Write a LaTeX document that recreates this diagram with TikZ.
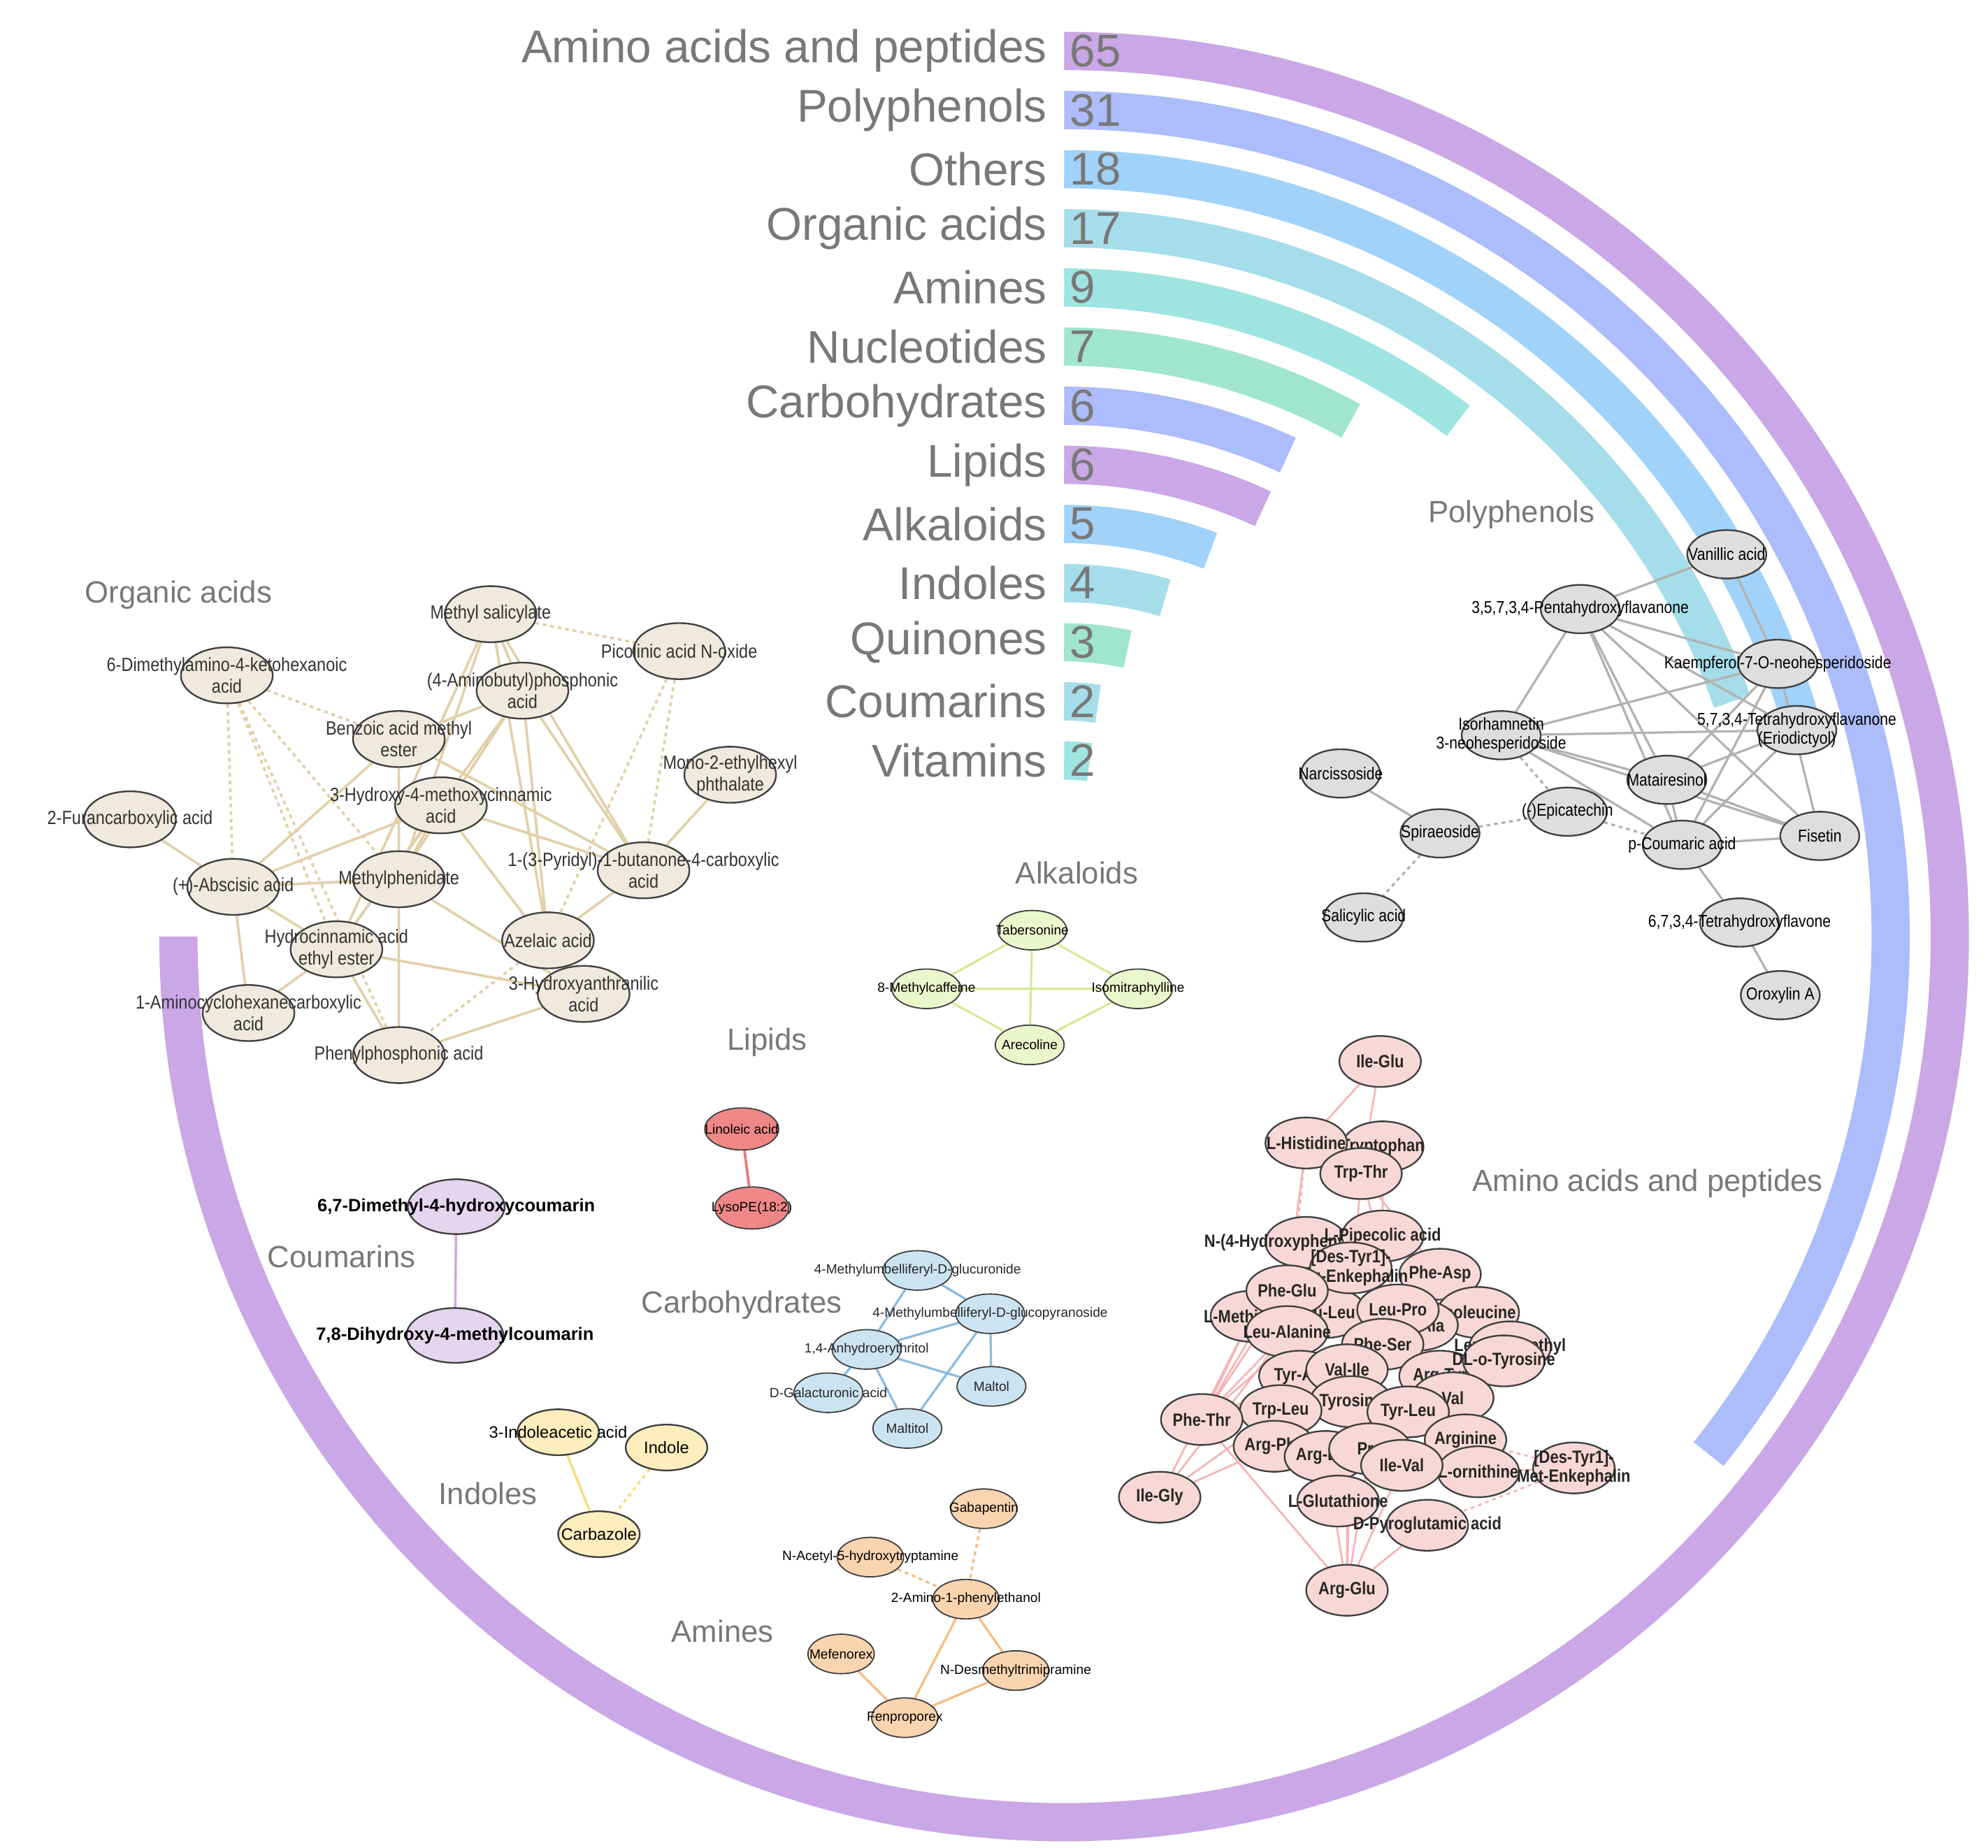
\documentclass[tikz,border=0pt]{standalone}
\usepackage{fontspec}
\setmainfont{Liberation Sans}
\newfontfamily\nar[FakeStretch=0.86]{Liberation Sans}
\usetikzlibrary{shapes.geometric}
\pgfdeclarelayer{arcs}\pgfdeclarelayer{edges}
\pgfsetlayers{arcs,edges,main}
\definecolor{tg}{RGB}{120,120,120}
\definecolor{cPur}{RGB}{198,160,228}
\definecolor{cBlu}{RGB}{166,182,250}
\definecolor{cLb}{RGB}{152,206,250}
\definecolor{cTl}{RGB}{158,218,232}
\definecolor{cTq}{RGB}{150,226,222}
\definecolor{cGr}{RGB}{152,228,200}
\tikzset{
 base/.style={ellipse,draw=black!75,line width=1.3pt,inner sep=0pt},
 oa/.style={base,fill={rgb,255:red,240;green,234;blue,222},minimum width=72pt,minimum height=44pt},
 oat/.style={font=\nar\fontsize{15}{17}\selectfont,text=black!80,align=center},
 pp/.style={base,fill={rgb,255:red,222;green,222;blue,222},minimum width=62pt,minimum height=38pt},
 ppt/.style={font=\nar\fontsize{13.5}{15}\selectfont,align=center},
 alk/.style={base,line width=1pt,fill={rgb,255:red,236;green,246;blue,204},minimum width=54pt,minimum height=31pt},
 alkt/.style={font=\fontsize{10.5}{12}\selectfont,align=center},
 li/.style={base,line width=1pt,fill={rgb,255:red,240;green,135;blue,135},minimum width=58pt,minimum height=33pt},
 lit/.style={font=\fontsize{10.5}{12}\selectfont},
 co/.style={base,fill={rgb,255:red,228;green,214;blue,238},minimum width=76pt,minimum height=43pt},
 cot/.style={font=\bfseries\fontsize{14}{16}\selectfont},
 ca/.style={base,line width=1pt,fill={rgb,255:red,204;green,228;blue,242},minimum width=54pt,minimum height=31pt},
 cat/.style={font=\fontsize{10.5}{12}\selectfont,text=black!85},
 inx/.style={base,fill={rgb,255:red,254;green,238;blue,190},minimum width=64pt,minimum height=36pt},
 inxt/.style={font=\fontsize{13}{15}\selectfont},
 amn/.style={base,line width=1pt,fill={rgb,255:red,250;green,212;blue,175},minimum width=52pt,minimum height=31pt},
 amnt/.style={font=\fontsize{10.5}{12}\selectfont},
 aa/.style={base,fill={rgb,255:red,248;green,216;blue,214},minimum width=64pt,minimum height=40pt},
 aat/.style={font=\nar\bfseries\fontsize{14}{15}\selectfont,align=center,text=black!85},
 grp/.style={font=\fontsize{24}{26}\selectfont,text=tg},
 big/.style={font=\fontsize{36}{38}\selectfont,text=tg},
 eoa/.style={draw={rgb,255:red,226;green,208;blue,170},line width=2pt},
 eoad/.style={eoa,dashed},
 epp/.style={draw=black!30,line width=1.8pt},
 eppd/.style={epp,dashed},
 eal/.style={draw={rgb,255:red,214;green,234;blue,150},line width=1.8pt},
 eli/.style={draw={rgb,255:red,232;green,120;blue,120},line width=2pt},
 eco/.style={draw={rgb,255:red,210;green,170;blue,228},line width=2pt},
 eca/.style={draw={rgb,255:red,140;green,188;blue,222},line width=1.8pt},
 ein/.style={draw={rgb,255:red,248;green,218;blue,120},line width=1.8pt},
 eind/.style={ein,dashed},
 eam/.style={draw={rgb,255:red,246;green,188;blue,130},line width=1.8pt},
 eamd/.style={eam,dashed},
 eaa/.style={draw={rgb,255:red,246;green,180;blue,180},line width=1.5pt},
 eaad/.style={eaa,dashed},
 bar/.style={line width=30pt,opacity=0.92},
}
\newcommand\nn[4]{\node[#1] (#2) at (#3) {}; \node[#1t] (#2t) at (#3) {#4};}
\begin{document}
\begin{tikzpicture}[x=1pt,y=-1pt]
\useasboundingbox (0,0) rectangle (1560,1450);
% ---------- bars
\begin{pgfonlayer}{arcs}
\foreach \i/\v/\c in {0/65/cPur,1/31/cBlu,2/18/cLb,3/17/cTl,4/9/cTq,5/7/cGr,6/6/cBlu,7/6/cPur,8/5/cLb,9/4/cTl,10/3/cGr,11/2/cTl,12/2/cTq}{
  \pgfmathsetmacro\r{695-46.4*\i}
  \pgfmathsetmacro\ea{90-\v/65*270}
  \pgfmathsetmacro\ty{735-\r}
  \draw[bar,\c] (835,\ty) arc[start angle=90,end angle=\ea,radius=\r pt];
}
\end{pgfonlayer}
\foreach \i/\t/\v in {0/Amino acids and peptides/65,1/Polyphenols/31,2/Others/18,3/Organic acids/17,4/Amines/9,5/Nucleotides/7,6/Carbohydrates/6,7/Lipids/6,8/Alkaloids/5,9/Indoles/4,10/Quinones/3,11/Coumarins/2,12/Vitamins/2}{
  \node[big,anchor=east] (lab\i) at (825,40+46.4*\i) {\t};
  \node[big,anchor=west] (cnt\i) at (836,40+46.4*\i) {\v};
}
% ---------- group labels
\node[grp] (gOA) at (140,467) {Organic acids};
\node[grp] (gPP) at (1186,404) {Polyphenols};
\node[grp] (gAL) at (845,685) {Alkaloids};
\node[grp] (gLI) at (602,818) {Lipids};
\node[grp] (gCO) at (268,986) {Coumarins};
\node[grp] (gCA) at (582,1024) {Carbohydrates};
\node[grp] (gIN) at (383,1172) {Indoles};
\node[grp] (gAM) at (567,1280) {Amines};
\node[grp] (gAA) at (1293,929) {Amino acids and peptides};
% ---------- organic acids
\nn{oa}{ms}{385,482}{Methyl salicylate}
\nn{oa}{pno}{533,511}{Picolinic acid N-oxide}
\nn{oa}{dmk}{178,530}{6-Dimethylamino-4-ketohexanoic\\acid}
\nn{oa}{ab}{410,542}{(4-Aminobutyl)phosphonic\\acid}
\nn{oa}{bme}{313,580}{Benzoic acid methyl\\ester}
\nn{oa}{meh}{573,608}{Mono-2-ethylhexyl\\phthalate}
\nn{oa}{hmc}{346,632}{3-Hydroxy-4-methoxycinnamic\\acid}
\nn{oa}{fc}{102,643}{2-Furancarboxylic acid}
\nn{oa}{pbc}{505,683}{1-(3-Pyridyl)-1-butanone-4-carboxylic\\acid}
\nn{oa}{abs}{183,696}{(+)-Abscisic acid}
\nn{oa}{mph}{313,690}{Methylphenidate}
\nn{oa}{az}{430,738}{Azelaic acid}
\nn{oa}{hce}{264,745}{Hydrocinnamic acid\\ethyl ester}
\nn{oa}{haa}{458,780}{3-Hydroxyanthranilic\\acid}
\nn{oa}{ach}{195,795}{1-Aminocyclohexanecarboxylic\\acid}
\nn{oa}{ph}{313,828}{Phenylphosphonic acid}
\begin{pgfonlayer}{edges}
\draw[eoa] (ms)--(hce) (ms)--(az) (ms)--(pbc) (ms)--(mph) (ms)--(ab) (ab)--(bme) (ab)--(hce) (ab)--(az) (ab)--(pbc)
 (bme)--(abs) (bme)--(ph) (bme)--(pbc) (hmc)--(abs) (hmc)--(hce) (hmc)--(haa) (hmc)--(pbc) (hmc)--(mph)
 (fc)--(abs) (abs)--(hce) (abs)--(ach) (abs)--(mph) (mph)--(haa) (mph)--(ph) (hce)--(haa) (hce)--(ach) (hce)--(ph)
 (az)--(pbc) (meh)--(pbc) (ph)--(haa) (ab)--(mph);
\draw[eoad] (ms)--(pno) (pno)--(pbc) (pno)--(az) (dmk)--(abs) (dmk)--(hce) (dmk)--(bme) (dmk)--(mph) (dmk)--(ph) (az)--(ph);
\end{pgfonlayer}
% ---------- polyphenols
\nn{pp}{va}{1355,435}{Vanillic acid}
\nn{pp}{phf}{1240,478}{3,5,7,3,4-Pentahydroxyflavanone}
\nn{pp}{kae}{1395,521}{Kaempferol-7-O-neohesperidoside}
\nn{pp}{iso}{1178,577}{Isorhamnetin\\3-neohesperidoside}
\nn{pp}{eri}{1410,573}{5,7,3,4-Tetrahydroxyflavanone\\(Eriodictyol)}
\nn{pp}{nar}{1052,607}{Narcissoside}
\nn{pp}{mat}{1308,612}{Matairesinol}
\nn{pp}{epi}{1230,637}{(-)Epicatechin}
\nn{pp}{spi}{1130,654}{Spiraeoside}
\nn{pp}{fis}{1428,656}{Fisetin}
\nn{pp}{pca}{1320,663}{p-Coumaric acid}
\nn{pp}{sal}{1070,720}{Salicylic acid}
\nn{pp}{thf}{1365,724}{6,7,3,4-Tetrahydroxyflavone}
\nn{pp}{oro}{1397,781}{Oroxylin A}
\begin{pgfonlayer}{edges}
\draw[epp] (va)--(phf) (va)--(kae) (phf)--(kae) (phf)--(iso) (phf)--(mat) (phf)--(pca) (phf)--(fis) (phf)--(eri)
 (kae)--(iso) (kae)--(mat) (kae)--(pca) (kae)--(fis) (iso)--(eri) (iso)--(mat) (iso)--(fis) (iso)--(pca)
 (eri)--(mat) (eri)--(pca) (mat)--(pca) (mat)--(fis) (pca)--(fis) (pca)--(thf) (thf)--(oro) (nar)--(spi);
\draw[eppd] (spi)--(epi) (spi)--(sal) (iso)--(epi) (epi)--(pca);
\end{pgfonlayer}
% ---------- alkaloids
\nn{alk}{tab}{810,730}{Tabersonine}
\nn{alk}{mc}{727,776}{8-Methylcaffeine}
\nn{alk}{ism}{893,776}{Isomitraphylline}
\nn{alk}{are}{808,820}{Arecoline}
\begin{pgfonlayer}{edges}
\draw[eal] (tab)--(mc) (tab)--(ism) (tab)--(are) (mc)--(ism) (mc)--(are) (ism)--(are);
\end{pgfonlayer}
% ---------- lipids
\nn{li}{lin}{582,886}{Linoleic acid}
\nn{li}{lpe}{590,948}{LysoPE(18:2)}
\begin{pgfonlayer}{edges}\draw[eli] (lin)--(lpe);\end{pgfonlayer}
% ---------- coumarins
\nn{co}{dmc}{358,947}{6,7-Dimethyl-4-hydroxycoumarin}
\nn{co}{dhc}{357,1048}{7,8-Dihydroxy-4-methylcoumarin}
\begin{pgfonlayer}{edges}\draw[eco] (dmc)--(dhc);\end{pgfonlayer}
% ---------- carbohydrates
\nn{ca}{mug}{720,997}{4-Methylumbelliferyl-D-glucuronide}
\nn{ca}{mgp}{777,1031}{4-Methylumbelliferyl-D-glucopyranoside}
\nn{ca}{ahe}{680,1059}{1,4-Anhydroerythritol}
\nn{ca}{mal}{778,1088}{Maltol}
\nn{ca}{dga}{650,1093}{D-Galacturonic acid}
\nn{ca}{mtt}{712,1121}{Maltitol}
\begin{pgfonlayer}{edges}
\draw[eca] (mug)--(mgp) (mug)--(ahe) (mgp)--(ahe) (mgp)--(mal) (mgp)--(mtt) (ahe)--(dga) (ahe)--(mtt) (ahe)--(mal);
\end{pgfonlayer}
% ---------- indoles
\nn{inx}{iaa}{438,1124}{3-Indoleacetic acid}
\nn{inx}{ind}{523,1136}{Indole}
\nn{inx}{car}{470,1204}{Carbazole}
\begin{pgfonlayer}{edges}\draw[ein] (iaa)--(car); \draw[eind] (ind)--(car);\end{pgfonlayer}
% ---------- amines
\nn{amn}{gab}{772,1184}{Gabapentin}
\nn{amn}{nas}{683,1222}{N-Acetyl-5-hydroxytryptamine}
\nn{amn}{ape}{758,1255}{2-Amino-1-phenylethanol}
\nn{amn}{mef}{660,1298}{Mefenorex}
\nn{amn}{ndt}{797,1311}{N-Desmethyltrimipramine}
\nn{amn}{fen}{710,1348}{Fenproporex}
\begin{pgfonlayer}{edges}
\draw[eamd] (gab)--(ape) (nas)--(ape);
\draw[eam] (ape)--(fen) (ape)--(ndt) (mef)--(fen) (fen)--(ndt);
\end{pgfonlayer}
% ---------- amino acids and peptides
\nn{aa}{ig}{1083,833}{Ile-Glu}
\nn{aa}{trp}{1085,900}{Tryptophan}
\nn{aa}{lh}{1025,897}{L-Histidine}
\nn{aa}{tt}{1068,921}{Trp-Thr}
\nn{aa}{nhp}{1025,975}{N-(4-Hydroxyphenyl)glycine}
\nn{aa}{pip}{1085,970}{L-Pipecolic acid}
\nn{aa}{pa}{1130,1000}{Phe-Asp}
\nn{aa}{isl}{1160,1030}{Isoleucine}
\nn{aa}{lim}{1185,1057}{Leucine methyl}
\nn{aa}{lm}{982,1033}{L-Methionine}
\nn{aa}{ll}{1040,1030}{Leu-Leu}
\nn{aa}{dtl}{1060,995}{[Des-Tyr1]-\\Leu-Enkephalin}
\nn{aa}{pg}{1010,1013}{Phe-Glu}
\nn{aa}{pra}{1112,1040}{Pro-Ala}
\nn{aa}{lp}{1097,1028}{Leu-Pro}
\nn{aa}{la}{1010,1045}{Leu-Alanine}
\nn{aa}{ps}{1085,1055}{Phe-Ser}
\nn{aa}{f1}{1020,1080}{Tyr-Ala}
\nn{aa}{f2}{1130,1080}{Arg-Tyr}
\nn{aa}{dlt}{1180,1068}{DL-o-Tyrosine}
\nn{aa}{vi}{1057,1075}{Val-Ile}
\nn{aa}{val}{1140,1097}{Val}
\nn{aa}{tyr}{1060,1100}{Tyrosine}
\nn{aa}{tyl}{1105,1108}{Tyr-Leu}
\nn{aa}{tl}{1005,1107}{Trp-Leu}
\nn{aa}{pt}{943,1114}{Phe-Thr}
\nn{aa}{arg}{1150,1130}{Arginine}
\nn{aa}{ap}{1000,1135}{Arg-Phe}
\nn{aa}{al}{1040,1143}{Arg-Leu}
\nn{aa}{pro}{1075,1137}{Pro}
\nn{aa}{lo}{1160,1155}{L-ornithine}
\nn{aa}{iv}{1100,1150}{Ile-Val}
\nn{aa}{dtm}{1235,1152}{[Des-Tyr1]-\\Met-Enkephalin}
\nn{aa}{igy}{910,1175}{Ile-Gly}
\nn{aa}{lg}{1050,1178}{L-Glutathione}
\nn{aa}{dpg}{1120,1197}{D-Pyroglutamic acid}
\nn{aa}{ag}{1057,1248}{Arg-Glu}
\begin{pgfonlayer}{edges}
\draw[eaa] (ig)--(lh) (ig)--(tt) (tt)--(vi) (tt)--(lp) (trp)--(ps) (pt)--(lm) (pt)--(la) (pt)--(pg) (pt)--(vi) (pt)--(ps)
 (pt)--(tyr) (pt)--(ll) (pt)--(nhp) (pt)--(ag) (igy)--(la) (igy)--(tl) (igy)--(ap) (igy)--(lm) (ag)--(tyr) (ag)--(al)
 (ag)--(pro) (ag)--(iv) (ag)--(vi) (ag)--(dpg) (lh)--(pg) (tt)--(pa);
\draw[eaad] (lh)--(la) (lh)--(pg) (dtm)--(lo) (dtm)--(dpg) (dtm)--(arg);
\end{pgfonlayer}
\end{tikzpicture}
\end{document}
